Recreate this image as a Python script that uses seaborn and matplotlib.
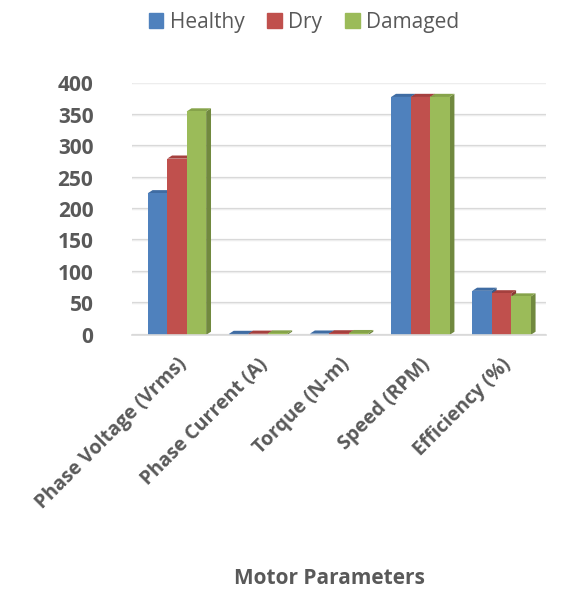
import numpy as np
import pandas as pd
import matplotlib
matplotlib.use("Agg")
import matplotlib.pyplot as plt
from matplotlib.patches import Polygon
import seaborn as sns

# Motor test results for three bearing conditions
categories = ["Phase Voltage (Vrms)", "Phase Current (A)", "Torque (N-m)",
              "Speed (RPM)", "Efficiency (%)"]
healthy = [225, 1.5, 2.0, 378, 70]
dry = [280, 1.8, 2.4, 378, 66]
damaged = [355, 2.2, 2.8, 378, 61]
conditions = ["Healthy", "Dry", "Damaged"]
y_ticks = [0, 50, 100, 150, 200, 250, 300, 350, 400]

face_colors = {"Healthy": "#4F81BD", "Dry": "#C0504D", "Damaged": "#9BBB59"}
side_colors = {"Healthy": "#385D8A", "Dry": "#8C3836", "Damaged": "#71893F"}
top_colors = {"Healthy": "#3F6CA3", "Dry": "#A5403E", "Damaged": "#86A34A"}

df = pd.DataFrame({
    "Parameter": categories * 3,
    "Condition": np.repeat(conditions, len(categories)),
    "Value": healthy + dry + damaged,
})

sns.set_theme(style="white")
plt.rcParams["font.family"] = ["Open Sans", "DejaVu Sans"]

fig = plt.figure(figsize=(5.63, 5.98), dpi=100)
ax = fig.add_axes([0.235, 0.44, 0.735, 0.421])

sns.barplot(data=df, x="Parameter", y="Value", hue="Condition",
            palette=face_colors, width=0.72, ax=ax, legend=False,
            saturation=1, edgecolor="none", errorbar=None)

ax.set_ylim(0, 400)
ax.set_xlim(-0.55, len(categories) - 0.45)

# horizontal grid on the back wall
for t in y_ticks:
    ax.axhline(t, color="#D9D9D9", lw=1.6, zorder=0)
    ax.axhline(t, color="#F2F2F2", lw=0.6, zorder=0)

# 3D depth: a darker side face and top face for every bar
bar_w = ax.patches[0].get_width()
dx = bar_w * 0.25
dy = 5.0
for cond, bars in zip(conditions, ax.containers):
    for rect in bars:
        x0 = rect.get_x()
        x1 = x0 + rect.get_width()
        h = rect.get_height()
        side = Polygon([(x1, 0), (x1 + dx, dy), (x1 + dx, h + dy), (x1, h)],
                       closed=True, facecolor=side_colors[cond],
                       edgecolor="none", zorder=rect.get_zorder() - 0.1)
        top = Polygon([(x0, h), (x0 + dx, h + dy), (x1 + dx, h + dy), (x1, h)],
                      closed=True, facecolor=top_colors[cond],
                      edgecolor="none", zorder=rect.get_zorder() - 0.1)
        ax.add_patch(side)
        ax.add_patch(top)
        rect.set_zorder(rect.get_zorder() + 0.2)

for s in ["top", "right", "left"]:
    ax.spines[s].set_visible(False)
ax.spines["bottom"].set_color("#D9D9D9")
ax.spines["bottom"].set_linewidth(1.2)
ax.set_yticks(y_ticks)
ax.set_yticklabels([str(t) for t in y_ticks], fontsize=15,
                   fontweight="bold", color="#595959")
ax.tick_params(axis="y", length=0, pad=28)
ax.set_xticks(range(len(categories)))
ax.set_xticklabels(categories, rotation=45, ha="right",
                   rotation_mode="anchor", fontsize=14,
                   fontweight="bold", color="#595959")
ax.tick_params(axis="x", length=0, pad=14)
ax.set_xticks(np.arange(-0.5, len(categories)), minor=True)
ax.tick_params(axis="x", which="minor", length=6, color="#D9D9D9",
               width=1.2)
ax.set_ylabel("")
ax.set_xlabel("")

fig.text(0.585, 0.015, "Motor Parameters", ha="center", va="bottom",
         fontsize=15, fontweight="bold", color="#595959")

handles = [plt.Rectangle((0, 0), 1, 1, color=face_colors[c]) for c in conditions]
fig.legend(handles, conditions, loc="upper center",
           bbox_to_anchor=(0.54, 1.012), ncol=3, frameon=False,
           fontsize=15, labelcolor="#595959", handlelength=0.7,
           handleheight=0.7, handletextpad=0.3, columnspacing=1.1)

fig.savefig("out.png", dpi=100)
